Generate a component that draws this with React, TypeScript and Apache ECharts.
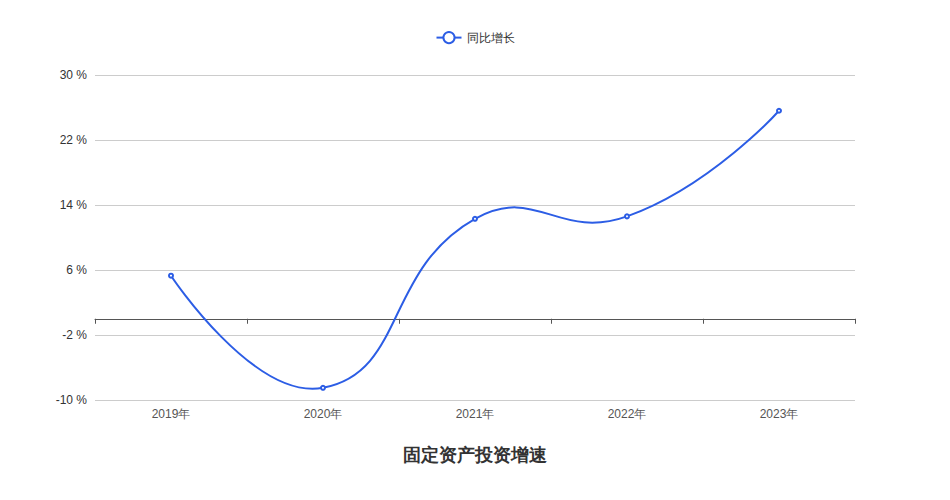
import React, { useEffect, useRef } from "react";
import * as echarts from "echarts";

const categories = ["2019年", "2020年", "2021年", "2022年", "2023年"];
const growthValues = [5.3, -8.5, 12.3, 12.6, 25.6];
const seriesName = "同比增长";
const chartTitle = "固定资产投资增速";
const lineColor = "#2c5de5";

function buildCurve(pts: number[][], smooth: number): string {
  const n = pts.length;
  const cps: number[][] = [];
  for (let i = 0; i < n; i++) {
    const p = pts[i];
    if (i === 0 || i === n - 1) {
      cps.push([p[0], p[1]]);
      continue;
    }
    const prev = pts[i - 1];
    const next = pts[i + 1];
    const vx = (next[0] - prev[0]) * smooth;
    const vy = (next[1] - prev[1]) * smooth;
    let d0 = Math.hypot(p[0] - prev[0], p[1] - prev[1]);
    let d1 = Math.hypot(p[0] - next[0], p[1] - next[1]);
    const sum = d0 + d1;
    if (sum !== 0) {
      d0 /= sum;
      d1 /= sum;
    }
    cps.push([p[0] - vx * d0, p[1] - vy * d0]);
    cps.push([p[0] + vx * d1, p[1] + vy * d1]);
  }
  let d = `M${pts[0][0]},${pts[0][1]}`;
  for (let i = 0; i < n - 1; i++) {
    const c1 = cps[2 * i];
    const c2 = cps[2 * i + 1];
    const e = pts[i + 1];
    d += ` C${c1[0]},${c1[1]} ${c2[0]},${c2[1]} ${e[0]},${e[1]}`;
  }
  return d;
}

export default function App() {
  const ref = useRef<HTMLDivElement>(null);
  useEffect(() => {
    if (!ref.current) return;
    const chart = echarts.init(ref.current, null, { renderer: "svg" });
    chart.setOption({
      animation: false,
      textStyle: { fontFamily: "sans-serif" },
      title: {
        text: chartTitle,
        left: "center",
        top: 441,
        textStyle: { fontSize: 18, fontWeight: "bold", color: "#333" },
      },
      legend: {
        top: 26,
        left: "center",
        data: [seriesName],
        itemWidth: 25,
        itemHeight: 14,
        textStyle: { fontSize: 12, color: "#333" },
        lineStyle: { opacity: 1, width: 2, color: lineColor },
        itemStyle: { borderWidth: 1.5 },
      },
      grid: { left: 95, right: 95, top: 75, bottom: 100 },
      xAxis: [
        {
          type: "category",
          data: categories,
          boundaryGap: true,
          axisLine: { onZero: true, lineStyle: { color: "#555" } },
          axisTick: { show: true, lineStyle: { color: "#555" } },
          axisLabel: { show: false },
        },
        {
          type: "category",
          data: categories,
          boundaryGap: true,
          position: "bottom",
          axisLine: { show: false, onZero: false },
          axisTick: { show: false },
          axisLabel: { show: true, color: "#555", fontSize: 12, margin: 8 },
        },
      ],
      yAxis: {
        type: "value",
        min: -10,
        max: 30,
        interval: 8,
        axisLine: { show: false },
        axisTick: { show: false },
        axisLabel: { formatter: "{value} %", color: "#333", fontSize: 12, margin: 8 },
        splitLine: { lineStyle: { color: "#ccc" } },
      },
      series: [
        {
          name: "curve",
          type: "custom",
          xAxisIndex: 0,
          z: 1,
          silent: true,
          clip: false,
          data: growthValues.map((v, i) => [i, v]),
          renderItem: (params: any, api: any) => {
            if (params.dataIndex !== 0) return { type: "group", children: [] };
            const pts = growthValues.map((v, i) => api.coord([i, v]));
            return {
              type: "path",
              shape: { pathData: buildCurve(pts, 0.5) },
              style: { fill: "none", stroke: lineColor, lineWidth: 2 },
            };
          },
        },
        {
          name: seriesName,
          type: "line",
          xAxisIndex: 0,
          z: 3,
          data: growthValues,
          symbol: "emptyCircle",
          symbolSize: 4,
          lineStyle: { width: 2, color: lineColor, opacity: 0 },
          itemStyle: { color: lineColor, borderWidth: 1 },
        },
      ],
    });
    return () => chart.dispose();
  }, []);
  return (
    <div
      ref={ref}
      style={{ position: "absolute", left: 0, top: 0, width: 950, height: 500 }}
    />
  );
}
